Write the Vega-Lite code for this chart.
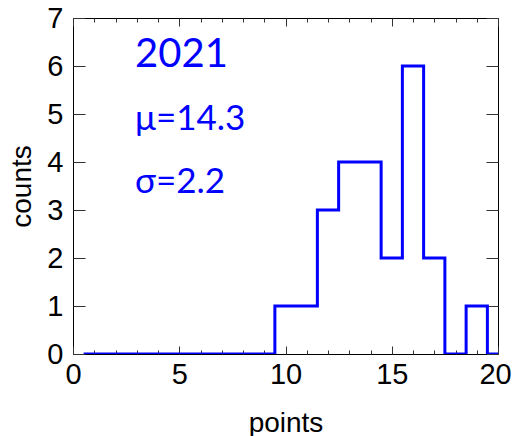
{
  "$schema": "https://vega.github.io/schema/vega-lite/v6.json",
  "width": 425,
  "height": 336,
  "autosize": {"type": "none"},
  "padding": {"left": 73, "top": 18, "right": 14, "bottom": 82},
  "background": "white",
  "config": {
    "view": {"stroke": "black", "strokeWidth": 1},
    "axis": {
      "domain": false,
      "grid": false,
      "labelFont": "Liberation Sans",
      "titleFont": "Liberation Sans",
      "labelColor": "black",
      "titleColor": "black",
      "tickColor": "#333333",
      "tickWidth": 1,
      "labelFontSize": 29,
      "titleFontSize": 28,
      "titleFontWeight": "normal",
      "labelFlush": false,
      "labelOverlap": false
    }
  },
  "datasets": {
    "hist": [
      {"lo": 0.5, "count": 0},
      {"lo": 1.5, "count": 0},
      {"lo": 2.5, "count": 0},
      {"lo": 3.5, "count": 0},
      {"lo": 4.5, "count": 0},
      {"lo": 5.5, "count": 0},
      {"lo": 6.5, "count": 0},
      {"lo": 7.5, "count": 0},
      {"lo": 8.5, "count": 0},
      {"lo": 9.5, "count": 1},
      {"lo": 10.5, "count": 1},
      {"lo": 11.5, "count": 3},
      {"lo": 12.5, "count": 4},
      {"lo": 13.5, "count": 4},
      {"lo": 14.5, "count": 2},
      {"lo": 15.5, "count": 6},
      {"lo": 16.5, "count": 2},
      {"lo": 17.5, "count": 0},
      {"lo": 18.5, "count": 1},
      {"lo": 19.5, "count": 0},
      {"lo": 20.5, "count": 0}
    ],
    "notes": [
      {"x": 2.92, "y": 5.98, "text": "2021", "size": 40},
      {"x": 2.92, "y": 4.67, "text": "μ=14.3", "size": 35},
      {"x": 2.92, "y": 3.35, "text": "σ=2.2", "size": 35}
    ]
  },
  "layer": [
    {
      "data": {"name": "hist"},
      "mark": {"type": "line", "interpolate": "step-after", "color": "#0000FF", "strokeWidth": 3, "clip": true, "strokeCap": "butt"},
      "encoding": {
        "x": {
          "field": "lo", "type": "quantitative",
          "scale": {"domain": [0, 20], "nice": false, "zero": false},
          "axis": {
            "orient": "bottom",
            "title": "points",
            "values": [0,1,2,3,4,5,6,7,8,9,10,11,12,13,14,15,16,17,18,19,20],
            "labelExpr": "datum.value % 5 === 0 ? datum.label : ''",
            "tickSize": {"condition": {"test": "datum.value % 5 === 0", "value": -8}, "value": -4},
            "labelOffset": {"condition": {"test": "datum.value === 20", "value": -3}, "value": 0},
            "labelPadding": 14,
            "titlePadding": 16
          }
        },
        "y": {
          "field": "count", "type": "quantitative",
          "scale": {"domain": [0, 7], "nice": false},
          "axis": {
            "orient": "left",
            "title": "counts",
            "values": [0,1,2,3,4,5,6,7],
            "tickSize": -12,
            "labelPadding": 22,
            "titlePadding": 10
          }
        }
      }
    },
    {
      "data": {"name": "hist"},
      "mark": {"type": "point", "opacity": 0},
      "encoding": {
        "x": {
          "field": "lo", "type": "quantitative",
          "scale": {"domain": [0, 20], "nice": false, "zero": false},
          "axis": {
            "orient": "top",
            "title": null,
            "labels": false,
            "values": [0,1,2,3,4,5,6,7,8,9,10,11,12,13,14,15,16,17,18,19,20],
            "tickSize": {"condition": {"test": "datum.value % 5 === 0", "value": -8}, "value": -4}
          }
        },
        "y": {
          "field": "count", "type": "quantitative",
          "scale": {"domain": [0, 7], "nice": false},
          "axis": {
            "orient": "right",
            "title": null,
            "labels": false,
            "values": [0,1,2,3,4,5,6,7],
            "tickSize": -12
          }
        }
      }
    },
    {
      "data": {"name": "notes"},
      "mark": {"type": "text", "align": "left", "baseline": "alphabetic", "font": "Lato", "color": "#0000FF"},
      "encoding": {
        "x": {"field": "x", "type": "quantitative", "scale": {"domain": [0, 20], "nice": false, "zero": false}, "axis": null},
        "y": {"field": "y", "type": "quantitative", "scale": {"domain": [0, 7], "nice": false}, "axis": null},
        "text": {"field": "text"},
        "size": {"field": "size", "type": "quantitative", "scale": null, "legend": null}
      }
    }
  ],
  "resolve": {"axis": {"x": "independent", "y": "independent"}}
}
